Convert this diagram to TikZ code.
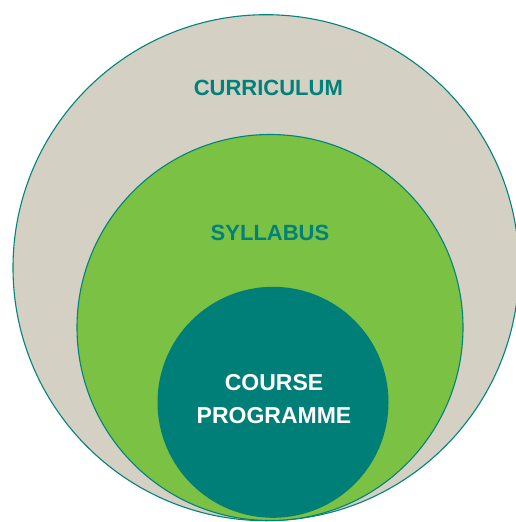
\documentclass[tikz,border=0pt]{standalone}
\usepackage{fontspec}
\setmainfont{Liberation Sans}
\definecolor{ringteal}{HTML}{00847C}
\definecolor{coreteal}{HTML}{007F78}
\definecolor{sand}{HTML}{D5D0C4}
\definecolor{leaf}{HTML}{7BC143}
\definecolor{labelteal}{HTML}{00827A}
\tikzset{
  ring/.style={circle, inner sep=0pt, draw=ringteal, line width=1.1pt},
  label/.style={inner sep=0pt, font=\bfseries\fontsize{22}{26}\selectfont, text=labelteal},
}
\begin{document}
\begin{tikzpicture}[x=1pt,y=-1pt]
\useasboundingbox (0,0) rectangle (515,522);
\node[ring, fill=sand, minimum size=506pt] (outer) at (266,267.7) {};
\node[ring, fill=leaf, minimum size=386pt] (middle) at (270,327.5) {};
\node[circle, inner sep=0pt, fill=coreteal, minimum size=231pt] (core) at (273,402.3) {};
\node[label] (curr) at (268.3,88.3) {CURRICULUM};
\node[label] (syll) at (270,233.3) {SYLLABUS};
\node[inner sep=0pt, align=center, text=white, font=\bfseries\fontsize{23}{33.5}\selectfont] (course) at (274,399) {COURSE\\PROGRAMME};
\end{tikzpicture}
\end{document}
